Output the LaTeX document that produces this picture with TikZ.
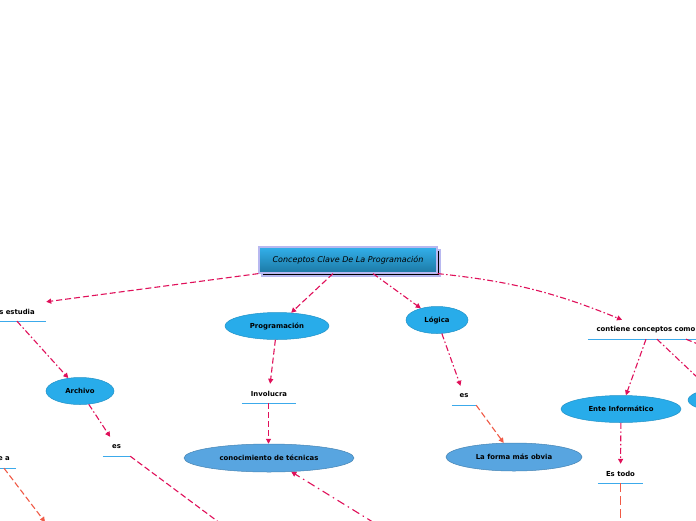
\documentclass[tikz,border=0pt]{standalone}
\usepackage{fontspec}
\setmainfont{DejaVu Sans}
\usetikzlibrary{positioning,arrows.meta,shapes.geometric,shadows}
\definecolor{linkred}{RGB}{224,16,90}
\definecolor{linkorange}{RGB}{240,90,70}
\definecolor{uline}{RGB}{60,170,235}
\definecolor{topicblue}{RGB}{40,172,234}
\definecolor{mutedblue}{RGB}{88,165,224}
\definecolor{rootedge}{RGB}{184,184,240}

\begin{document}
\begin{tikzpicture}[x=1pt,y=-1pt,
    >={Triangle[length=5pt,width=5pt]},
    rootbox/.style={draw=rootedge,line width=1.2pt,top color=topicblue!95!white,bottom color=topicblue!70!black,
      minimum width=178pt,minimum height=26pt,inner sep=0pt,font=\fontsize{8}{10}\selectfont\itshape,
      copy shadow={shadow xshift=3pt,shadow yshift=-3pt}},
    topic/.style={ellipse,fill=topicblue,draw=topicblue!85!black,line width=0.5pt,inner sep=0pt,
      minimum height=27pt,font=\fontsize{6.9}{8}\selectfont\bfseries},
    muted/.style={topic,fill=mutedblue,draw=mutedblue!80!black,minimum height=28pt},
    sub/.style={inner sep=0pt,minimum height=19pt,font=\fontsize{6.9}{8}\selectfont\bfseries},
    underline/.style={draw=uline,line width=1pt},
    link/.style={->,draw=linkred,line width=1.1pt,dash pattern=on 6pt off 3pt},
    linkdot/.style={link,dash pattern=on 6pt off 2.5pt on 1.5pt off 2.5pt},
    orangelink/.style={link,draw=linkorange}]
  \fill[white] (0,0) rectangle (696,520);
  \useasboundingbox (0,0) rectangle (696,520);
  \clip (0,0) rectangle (696,520);
  \node[rootbox] (root) at (348,260) {Conceptos Clave De La Programación};
  \node[sub,minimum width=58pt] (estudia) at (17,311.5) {s estudia};
  \node[topic,minimum width=104pt] (prog) at (277,326) {Programación};
  \node[topic,minimum width=62pt] (logica) at (437,320) {Lógica};
  \node[sub,minimum width=116pt] (contiene) at (646,329.5) {contiene conceptos como};
  \node[topic,minimum width=68pt] (archivo) at (80,391) {Archivo};
  \node[sub,minimum width=27pt] (esarch) at (116.5,446.5) {es};
  \node[sub,minimum width=24pt] (ea) at (4,458.5) {e a};
  \node[sub,minimum width=54pt] (involucra) at (269,393.5) {Involucra};
  \node[muted,minimum width=170pt] (tecnicas) at (269,458) {conocimiento de técnicas};
  \node[sub,minimum width=24pt] (eslog) at (464,395.5) {es};
  \node[muted,minimum width=136pt] (obvia) at (514,457) {La forma más obvia};
  \node[topic,minimum width=120pt] (ente) at (621,409) {Ente Informático};
  \node[topic,minimum width=104pt] (extra) at (740,400) {};
  \node[sub,minimum width=45pt] (estodo) at (620.5,473.5) {Es todo};
  \foreach \n in {estudia,contiene,esarch,ea,involucra,eslog,estodo}
    \draw[underline] ([yshift=-0.5pt]\n.south west) -- ([yshift=-0.5pt]\n.south east);
  % ends that leave the frame
  \coordinate (esarchout) at (240,538);
  \coordinate (eaout) at (45,522);
  \coordinate (tecnicasin) at (389,532);
  \coordinate (contieneout) at (740,361);
  \coordinate (estodoout) at (620.5,540);

  \draw[link] (root.south west) -- (estudia.north east);
  \draw[link] ([xshift=-15pt]root.south) -- (prog);
  \draw[linkdot] ([xshift=25pt]root.south) -- (logica);
  \draw[linkdot] (root.south east) to[bend left=8] ([xshift=-24pt]contiene.north);
  \draw[linkdot] (estudia.south) -- (archivo);
  \draw[linkdot] (archivo) -- (esarch);
  \draw[link] (esarch.south east) -- (esarchout);
  \draw[orangelink] (ea.south) -- (eaout);
  \draw[link] (prog) -- (involucra);
  \draw[link] ([xshift=-0.5pt]involucra.south) -- ([xshift=-0.5pt]tecnicas.north);
  \draw[linkdot,dash pattern=on 8pt off 4pt on 1.5pt off 4pt] (tecnicasin) -- (tecnicas);
  \draw[linkdot] (logica) -- (eslog);
  \draw[orangelink] (eslog.south east) -- (obvia);
  \draw[linkdot] (contiene.south) -- (ente);
  \draw[linkdot] ([xshift=11pt]contiene.south) -- (extra.160);
  \draw[link] ([xshift=40pt]contiene.south) -- (contieneout);
  \draw[linkdot] (ente) -- (estodo);
  \draw[orangelink,dash pattern=on 9pt off 4pt] (estodo.south) -- (estodoout);
\end{tikzpicture}
\end{document}
